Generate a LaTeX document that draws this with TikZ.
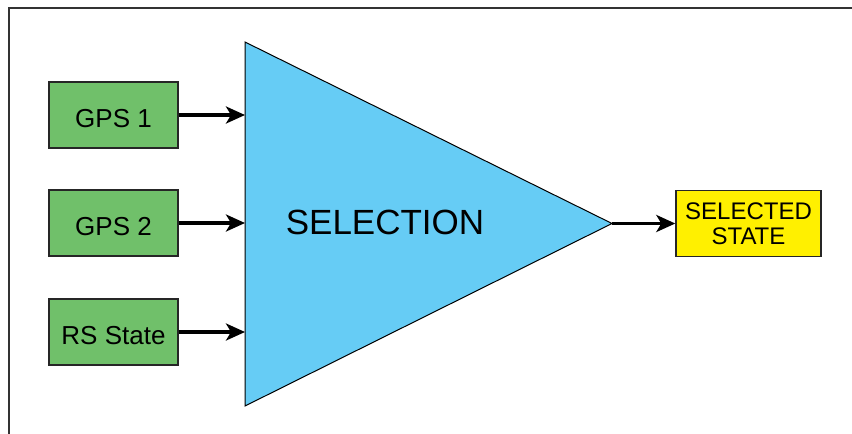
\documentclass[tikz,border=0pt]{standalone}
\usepackage{fontspec}
\setmainfont{Liberation Sans}
\usetikzlibrary{arrows.meta}
\definecolor{boxgreen}{HTML}{70C06A}
\definecolor{triblue}{HTML}{66CCF5}
\definecolor{outyellow}{HTML}{FFF000}
\begin{document}
\begin{tikzpicture}[x=1pt,y=-1pt,
  inbox/.style={draw=black!85,line width=1.4pt,fill=boxgreen,minimum width=129pt,minimum height=66pt,inner sep=0pt,text height=24pt,text depth=0pt,font=\fontsize{26}{29}\selectfont},
  outbox/.style={draw=black!85,line width=1.4pt,fill=outyellow,minimum width=145pt,minimum height=66pt,inner sep=0pt,font=\fontsize{24}{25}\selectfont},
  conn/.style={line width=3.2pt,-{Stealth[length=19pt,width=17pt,inset=5pt]}}]
\useasboundingbox (0,0) rectangle (852,434);
\fill[white] (0,0) rectangle (852,434);
\draw[black!80,line width=1.2pt] (852,8) -- (9,8) -- (9,434);
% triangle
\coordinate (tA) at (245,42);
\coordinate (tB) at (245,406);
\coordinate (tC) at (612,223.5);
\draw[black,line width=1pt,fill=triblue] (tA) -- (tC) -- (tB) -- cycle;
\node[font=\fontsize{35}{40}\selectfont] (sel) at (385,222) {SELECTION};
\coordinate (in1) at (245,115);
\coordinate (in2) at (245,223);
\coordinate (in3) at (245,332);
% boxes
\node[inbox] (g1) at (113.5,115) {GPS 1};
\node[inbox] (g2) at (113.5,223) {GPS 2};
\node[inbox] (rs) at (113.5,332) {RS State};
\node[outbox] (out) at (748.5,223.5) {\raisebox{-10pt}[0pt][0pt]{\begin{tabular}{@{}c@{}}SELECTED\\STATE\end{tabular}}};
% connectors
\draw[conn] (g1.east) -- (in1);
\draw[conn] (g2.east) -- (in2);
\draw[conn] (rs.east) -- (in3);
\draw[conn] (tC) -- (out.west);
\end{tikzpicture}
\end{document}
